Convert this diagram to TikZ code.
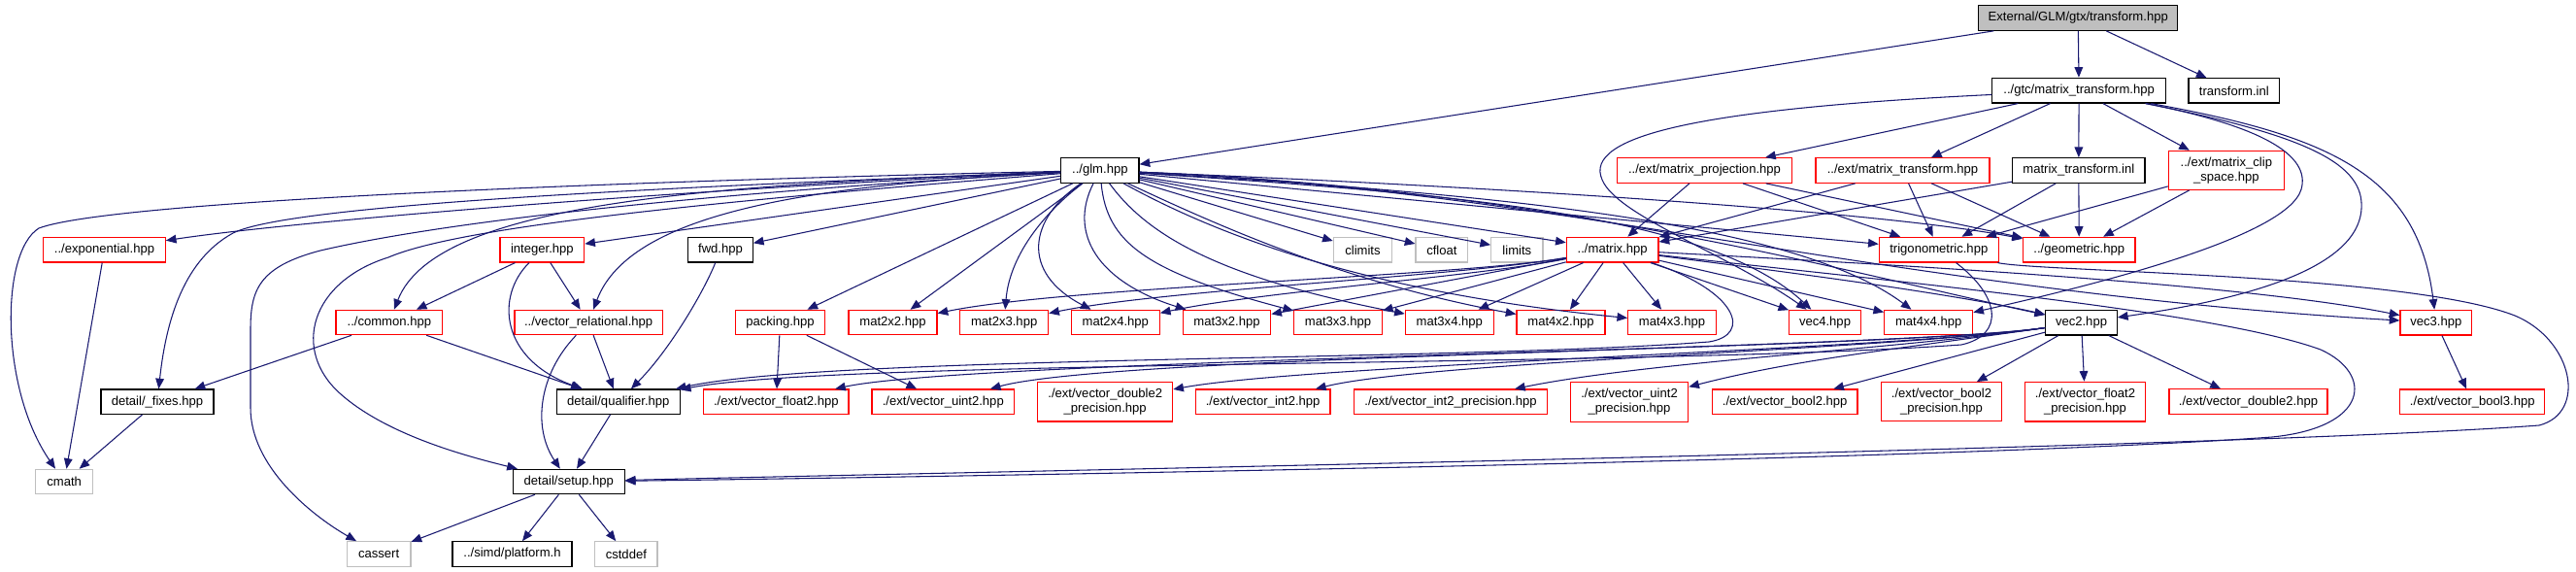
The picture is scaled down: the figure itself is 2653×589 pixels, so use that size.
\documentclass[tikz,border=0pt]{standalone}
\usepackage{fontspec}
\setmainfont{Liberation Sans}
\usetikzlibrary{arrows.meta}
\definecolor{edgec}{HTML}{191970}
\definecolor{redb}{HTML}{FF0000}
\definecolor{grayb}{HTML}{BFBFBF}
\tikzset{
  basebox/.style={draw, rectangle, inner sep=0pt, line width=0.85pt, font=\fontsize{9.8}{11.3}\selectfont, align=center, text=black},
  blkbox/.style={basebox, draw=black},
  mainbox/.style={basebox, draw=black, fill=grayb},
  redbox/.style={basebox, draw=redb},
  graybox/.style={basebox, draw=grayb},
  conn/.style={draw=edgec, line width=0.8pt, -{Triangle[length=8pt,width=6.5pt]}}
}
\newcommand\mkbox[7]{\node[#1, minimum width={(#5-#3)*0.75pt}, minimum height={(#6-#4)*0.75pt}] (#2) at ({(#3+#5)/2},{(#4+#6)/2}) {#7};}
\begin{document}
\begin{tikzpicture}[x=0.75pt, y=-0.75pt]
\useasboundingbox (0,0) rectangle (2653,589);
% row 0-2
\mkbox{mainbox}{main}{2037.5}{5.3}{2242.9}{31.3}{External/GLM/gtx/transform.hpp}
\mkbox{blkbox}{gtcmt}{2051.8}{80.3}{2230.4}{106}{../gtc/matrix\_transform.hpp}
\mkbox{blkbox}{tinl}{2254}{80.7}{2347.7}{106}{transform.inl}
\mkbox{blkbox}{glm}{1092.7}{162.7}{1173}{188.3}{../glm.hpp}
\mkbox{redbox}{proj}{1665.3}{162.7}{1845.7}{188.3}{../ext/matrix\_projection.hpp}
\mkbox{redbox}{emt}{1870}{162.7}{2049}{188.3}{../ext/matrix\_transform.hpp}
\mkbox{blkbox}{mtinl}{2072.6}{162.7}{2209}{188.3}{matrix\_transform.inl}
\mkbox{redbox}{clip}{2233.3}{155.3}{2352.3}{195.3}{../ext/matrix\_clip\\\_space.hpp}
% row 3
\mkbox{redbox}{exp}{44.7}{244.7}{170.3}{270}{../exponential.hpp}
\mkbox{redbox}{integer}{515}{244.7}{601.7}{270}{integer.hpp}
\mkbox{blkbox}{fwd}{708.7}{244.7}{775.3}{270}{fwd.hpp}
\mkbox{graybox}{climits}{1373.3}{244.7}{1433.7}{270}{climits}
\mkbox{graybox}{cfloat}{1458}{244.7}{1511.7}{270}{cfloat}
\mkbox{graybox}{limits}{1535.7}{244.7}{1589}{270}{limits}
\mkbox{redbox}{matrix}{1613.3}{244.3}{1708}{270}{../matrix.hpp}
\mkbox{redbox}{trig}{1935.3}{244.3}{2058.3}{270}{trigonometric.hpp}
\mkbox{redbox}{geom}{2083.5}{244.3}{2199}{270}{../geometric.hpp}
% row 4
\mkbox{redbox}{common}{346}{319.3}{455.7}{344.7}{../common.hpp}
\mkbox{redbox}{vrel}{530}{319.3}{682.3}{344.7}{../vector\_relational.hpp}
\mkbox{redbox}{packing}{757.3}{319.3}{849.7}{344.7}{packing.hpp}
\mkbox{redbox}{mat2x2}{874}{319.3}{965}{344.7}{mat2x2.hpp}
\mkbox{redbox}{mat2x3}{988.7}{319.3}{1079.6}{344.7}{mat2x3.hpp}
\mkbox{redbox}{mat2x4}{1103.3}{319.3}{1194.3}{344.7}{mat2x4.hpp}
\mkbox{redbox}{mat3x2}{1218.3}{319.3}{1308.7}{344.7}{mat3x2.hpp}
\mkbox{redbox}{mat3x3}{1332.7}{319.3}{1423.3}{344.7}{mat3x3.hpp}
\mkbox{redbox}{mat3x4}{1447.3}{319.3}{1538.3}{344.7}{mat3x4.hpp}
\mkbox{redbox}{mat4x2}{1562}{319.3}{1653}{344.7}{mat4x2.hpp}
\mkbox{redbox}{mat4x3}{1676.7}{319.3}{1767.3}{344.7}{mat4x3.hpp}
\mkbox{redbox}{vec4}{1842.7}{319.3}{1916.3}{344.7}{vec4.hpp}
\mkbox{redbox}{mat4x4}{1940.7}{319.3}{2031.7}{344.7}{mat4x4.hpp}
\mkbox{blkbox}{vec2}{2106.7}{319.3}{2180.3}{345}{vec2.hpp}
\mkbox{redbox}{vec3}{2472}{319.3}{2545.7}{345}{vec3.hpp}
% row 5
\mkbox{blkbox}{fixes}{104}{401}{220}{426.3}{detail/\_fixes.hpp}
\mkbox{blkbox}{qual}{573.3}{401}{700.3}{426.3}{detail/qualifier.hpp}
\mkbox{redbox}{vf2}{724.7}{401}{874}{426.3}{./ext/vector\_float2.hpp}
\mkbox{redbox}{vu2}{898}{401}{1044.6}{426.3}{./ext/vector\_uint2.hpp}
\mkbox{redbox}{vd2p}{1068.7}{393.3}{1207.7}{434}{./ext/vector\_double2\\\_precision.hpp}
\mkbox{redbox}{vi2}{1231.3}{401}{1370}{426.7}{./ext/vector\_int2.hpp}
\mkbox{redbox}{vi2p}{1394.7}{401}{1593.3}{426.7}{./ext/vector\_int2\_precision.hpp}
\mkbox{redbox}{vu2p}{1617.3}{393.7}{1738.7}{434.3}{./ext/vector\_uint2\\\_precision.hpp}
\mkbox{redbox}{vb2}{1763.3}{401}{1913}{426.7}{./ext/vector\_bool2.hpp}
\mkbox{redbox}{vb2p}{1937.3}{393.7}{2061.7}{433.7}{./ext/vector\_bool2\\\_precision.hpp}
\mkbox{redbox}{vf2p}{2085.3}{393.3}{2209.7}{434}{./ext/vector\_float2\\\_precision.hpp}
\mkbox{redbox}{vd2}{2234}{400.7}{2397}{426.7}{./ext/vector\_double2.hpp}
\mkbox{redbox}{vb3}{2471.7}{401}{2620.8}{426.7}{./ext/vector\_bool3.hpp}
% row 6-7
\mkbox{graybox}{cmath}{36.7}{483.3}{95.7}{508.7}{cmath}
\mkbox{blkbox}{setup}{528.3}{483.3}{643.3}{508.7}{detail/setup.hpp}
\mkbox{graybox}{cassert}{357.3}{557.7}{423}{583.3}{cassert}
\mkbox{blkbox}{platform}{466}{557.7}{589}{583.3}{../simd/platform.h}
\mkbox{graybox}{cstddef}{612.7}{557.7}{677}{583.3}{cstddef}

% top edges
\draw[conn] (main) -- (glm);
\draw[conn] (main) -- (gtcmt);
\draw[conn] (main) -- (tinl);
% gtc/matrix_transform
\draw[conn] (gtcmt) -- (proj);
\draw[conn] (gtcmt) -- (emt);
\draw[conn] (gtcmt) -- (mtinl);
\draw[conn] (gtcmt) -- (clip);
\draw[conn] (gtcmt) .. controls (1750,112) and (1630,140) .. (1650,185) .. controls (1665,222) and (1780,262) .. (vec4);
\draw[conn] (gtcmt) .. controls (2330,130) and (2380,160) .. (2370,195) .. controls (2355,245) and (2150,295) .. (mat4x4);
\draw[conn] (gtcmt) .. controls (2380,140) and (2435,170) .. (2432,215) .. controls (2428,280) and (2300,310) .. (vec2);
\draw[conn] (gtcmt) .. controls (2400,140) and (2490,180) .. (vec3);
% ext headers
\draw[conn] (proj) -- (matrix);
\draw[conn] (proj) -- (trig);
\draw[conn] (proj) -- (geom);
\draw[conn] (emt) -- (matrix);
\draw[conn] (emt) -- (trig);
\draw[conn] (emt) -- (geom);
\draw[conn] (mtinl) -- (matrix);
\draw[conn] (mtinl) -- (trig);
\draw[conn] (mtinl) -- (geom);
\draw[conn] (clip) -- (trig);
\draw[conn] (clip) -- (geom);
% glm to the left
\draw[conn] (glm) .. controls (700,185) and (120,205) .. (40,235) .. controls (0,260) and (0,400) .. (cmath);
\draw[conn] (glm) .. controls (700,195) and (300,228) .. (exp);
\draw[conn] (glm) .. controls (700,192) and (300,210) .. (240,240) .. controls (185,270) and (170,340) .. (fixes);
\draw[conn] (glm) .. controls (700,200) and (450,230) .. (330,258) .. controls (265,275) and (258,300) .. (258,340) -- (258,420) .. controls (258,480) and (320,530) .. (cassert);
\draw[conn] (glm) .. controls (700,210) and (470,235) .. (400,265) .. controls (320,290) and (300,360) .. (350,405) .. controls (400,450) and (490,472) .. (setup);
\draw[conn] (glm) .. controls (750,190) and (450,205) .. (common);
\draw[conn] (glm) -- (integer);
\draw[conn] (glm) .. controls (850,190) and (650,215) .. (vrel);
\draw[conn] (glm) -- (fwd);
\draw[conn] (glm) -- (packing);
% glm to the matrices
\draw[conn] (glm) -- (mat2x2);
\draw[conn] (glm) .. controls (1080,215) and (1040,260) .. (mat2x3);
\draw[conn] (glm) .. controls (1060,225) and (1050,280) .. (mat2x4);
\draw[conn] (glm) .. controls (1100,240) and (1130,290) .. (mat3x2);
\draw[conn] (glm) .. controls (1140,250) and (1180,280) .. (mat3x3);
\draw[conn] (glm) .. controls (1180,240) and (1250,285) .. (mat3x4);
\draw[conn] (glm) .. controls (1250,230) and (1380,290) .. (mat4x2);
\draw[conn] (glm) .. controls (1250,240) and (1400,300) .. (mat4x3);
% glm to the right
\draw[conn] (glm) -- (climits);
\draw[conn] (glm) -- (cfloat);
\draw[conn] (glm) -- (limits);
\draw[conn] (glm) -- (matrix);
\draw[conn] (glm) .. controls (1500,200) and (1760,220) .. (vec4);
\draw[conn] (glm) .. controls (1550,200) and (1850,230) .. (mat4x4);
\draw[conn] (glm) .. controls (1600,195) and (1900,280) .. (vec2);
\draw[conn] (glm) -- (trig);
\draw[conn] (glm) .. controls (1600,195) and (1950,220) .. (geom);
\draw[conn] (glm) .. controls (1600,195) and (1950,300) .. (vec3);
% matrix
\draw[conn] (matrix) .. controls (1500,285) and (1100,295) .. (mat2x2);
\draw[conn] (matrix) .. controls (1500,285) and (1200,298) .. (mat2x3);
\draw[conn] (matrix) .. controls (1520,285) and (1300,300) .. (mat2x4);
\draw[conn] (matrix) -- (mat3x2);
\draw[conn] (matrix) -- (mat3x3);
\draw[conn] (matrix) -- (mat3x4);
\draw[conn] (matrix) -- (mat4x2);
\draw[conn] (matrix) -- (mat4x3);
\draw[conn] (matrix) -- (vec4);
\draw[conn] (matrix) -- (mat4x4);
\draw[conn] (matrix) .. controls (1800,275) and (2000,300) .. (vec2);
\draw[conn] (matrix) .. controls (1900,270) and (2300,290) .. (vec3);
\draw[conn] (matrix) .. controls (1790,300) and (1805,345) .. (1760,352) .. controls (1500,372) and (850,366) .. (qual);
\draw[conn] (matrix) .. controls (1950,290) and (2280,320) .. (2390,360) .. controls (2445,385) and (2440,440) .. (2340,450) .. controls (2000,475) and (900,492) .. (setup);
% trigonometric
\draw[conn] (trig) .. controls (2060,305) and (2065,345) .. (2020,355) .. controls (1700,378) and (860,370) .. (qual);
\draw[conn] (trig) .. controls (2100,280) and (2480,282) .. (2590,325) .. controls (2650,350) and (2665,425) .. (2615,438) .. controls (2300,462) and (900,488) .. (setup);
% vec2
\draw[conn] (vec2) .. controls (1950,360) and (1000,370) .. (vf2);
\draw[conn] (vec2) .. controls (1950,360) and (1150,365) .. (vu2);
\draw[conn] (vec2) .. controls (1950,360) and (1350,375) .. (vd2p);
\draw[conn] (vec2) .. controls (1950,360) and (1470,372) .. (vi2);
\draw[conn] (vec2) .. controls (1950,360) and (1700,372) .. (vi2p);
\draw[conn] (vec2) .. controls (1950,360) and (1850,370) .. (vu2p);
\draw[conn] (vec2) -- (vb2);
\draw[conn] (vec2) -- (vb2p);
\draw[conn] (vec2) -- (vf2p);
\draw[conn] (vec2) -- (vd2);
\draw[conn] (vec3) -- (vb3);
% left part
\draw[conn] (integer) -- (common);
\draw[conn] (integer) -- (vrel);
\draw[conn] (integer) .. controls (510,305) and (515,370) .. (qual);
\draw[conn] (common) -- (fixes);
\draw[conn] (common) -- (qual);
\draw[conn] (vrel) -- (qual);
\draw[conn] (vrel) .. controls (555,385) and (548,440) .. (setup);
\draw[conn] (fwd) .. controls (725,300) and (690,360) .. (qual);
\draw[conn] (packing) -- (vf2);
\draw[conn] (packing) -- (vu2);
\draw[conn] (qual) -- (setup);
\draw[conn] (setup) -- (cassert);
\draw[conn] (setup) -- (platform);
\draw[conn] (setup) -- (cstddef);
\draw[conn] (fixes) -- (cmath);
\draw[conn] (exp) -- (cmath);
\end{tikzpicture}
\end{document}
